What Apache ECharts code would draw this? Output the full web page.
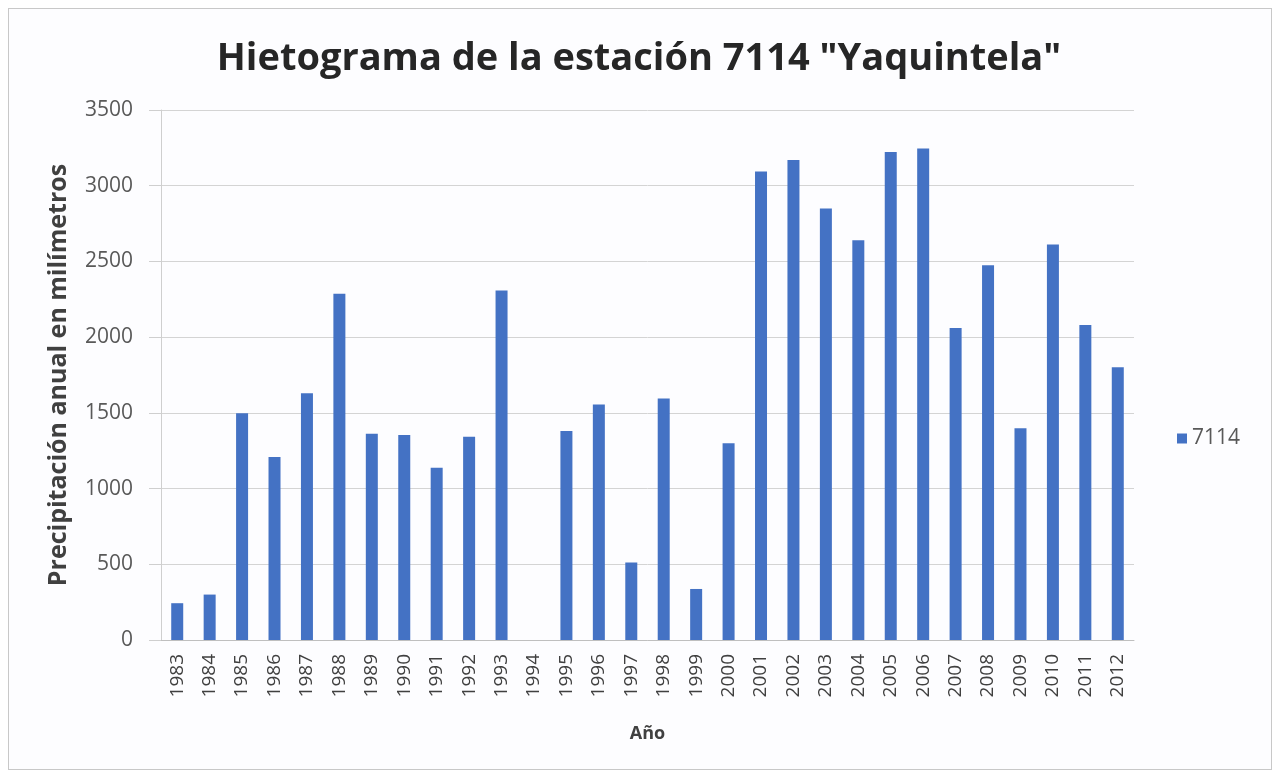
<!DOCTYPE html>
<html>
<head>
<meta charset="utf-8">
<script src="https://cdn.jsdelivr.net/npm/echarts@6/dist/echarts.min.js"></script>
<style>
  html, body { margin: 0; padding: 0; background: #ffffff; }
  #frame { position: absolute; left: 8px; top: 8px; width: 1262px; height: 760px; border: 1px solid #c8c8c8; background: #fdfdff; }
  #chart { width: 1278px; height: 777px; position: absolute; left: 0; top: 0; }
</style>
</head>
<body>
<div id="frame"></div>
<div id="chart"></div>
<script>
  const years = ["1983", "1984", "1985", "1986", "1987", "1988", "1989", "1990", "1991", "1992",
    "1993", "1994", "1995", "1996", "1997", "1998", "1999", "2000", "2001", "2002",
    "2003", "2004", "2005", "2006", "2007", "2008", "2009", "2010", "2011", "2012"];
  const rainfall = [243, 300, 1498, 1208, 1630, 2287, 1362, 1353, 1138, 1343,
    2308, null, 1380, 1555, 512, 1595, 337, 1300, 3094, 3170,
    2850, 2640, 3222, 3245, 2060, 2475, 1398, 2612, 2080, 1802];
  const seriesName = "7114";

  const chart = echarts.init(document.getElementById("chart"));
  chart.setOption({
    backgroundColor: "transparent",
    color: ["#4472c4"],
    title: {
      text: 'Hietograma de la estación 7114 "Yaquintela"',
      left: "center",
      top: 35,
      textStyle: { fontFamily: "Open Sans", fontWeight: "bold", fontSize: 38, color: "#262626" },
    },
    legend: {
      orient: "vertical",
      left: 1172,
      top: 423,
      itemWidth: 10,
      itemHeight: 10,
      itemGap: 6,
      icon: "rect",
      textStyle: { fontFamily: "Open Sans", fontSize: 21, color: "#595959" },
      data: [seriesName],
    },
    grid: { left: 161, right: 144, top: 110, bottom: 137 },
    xAxis: {
      type: "category",
      data: years,
      name: "Año",
      nameLocation: "middle",
      nameGap: 85,
      nameTextStyle: { fontFamily: "Open Sans", fontWeight: "bold", fontSize: 18, color: "#404040" },
      axisLine: { lineStyle: { color: "#bfbfbf" } },
      axisTick: { show: false },
      axisLabel: { rotate: 90, fontFamily: "Open Sans", fontSize: 19, color: "#404040", margin: 14, interval: 0 },
    },
    yAxis: {
      type: "value",
      min: 0,
      max: 3500,
      interval: 500,
      name: "Precipitación anual en milímetros",
      nameLocation: "middle",
      nameGap: 90,
      nameTextStyle: { fontFamily: "Open Sans", fontWeight: "bold", fontSize: 25, color: "#404040" },
      axisLine: { show: true, lineStyle: { color: "#cfcfcf" } },
      axisTick: { show: true, length: 12, lineStyle: { color: "#cfcfcf" } },
      axisLabel: {
        fontFamily: "Open Sans",
        fontSize: 21,
        color: "#595959",
        margin: 28,
        formatter: (v) => String(v),
      },
      splitLine: { lineStyle: { color: "#d4d4d4" } },
    },
    series: [
      {
        name: seriesName,
        type: "bar",
        barWidth: 12,
        data: rainfall,
      },
    ],
  });
</script>
</body>
</html>
